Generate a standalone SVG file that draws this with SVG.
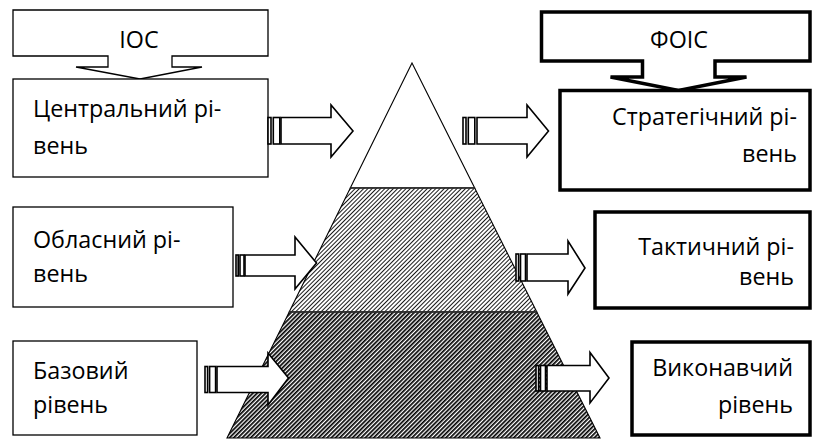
<svg xmlns="http://www.w3.org/2000/svg" width="813" height="439" viewBox="0 0 813 439">
<style>
.thin{fill:#fff;stroke:#000;stroke-width:1.3}
.thick{fill:#fff;stroke:#000;stroke-width:3.5}
.arr{fill:#fff;stroke:#000;stroke-width:1.6;stroke-linejoin:miter}
.t{font-family:"Open Sans","Noto Sans","Liberation Sans",sans-serif;font-size:23.3px;fill:#000}
.pyr{stroke:#000;stroke-width:1.1}
.div{stroke:#333;stroke-width:1.6}
</style>
<defs>
<pattern id="hLight" width="3" height="3" patternUnits="userSpaceOnUse" patternTransform="rotate(45)"><rect width="3" height="3" fill="#fff"/><rect width="0.9" height="3" fill="#000"/></pattern>
<pattern id="hDark" width="3" height="3" patternUnits="userSpaceOnUse" patternTransform="rotate(45)"><rect width="3" height="3" fill="#fff"/><rect width="1.7" height="3" fill="#000"/></pattern>
</defs>
<rect width="813" height="439" fill="#fff"/>
<g id="pyramid">
<polygon points="412,63 474.7,188 350.3,188" fill="#fff" class="pyr"/>
<polygon points="350.3,188 474.7,188 536.8,312 289.2,312" fill="url(#hLight)" class="pyr"/>
<polygon points="289.2,312 536.8,312 600,438 227,438" fill="url(#hDark)" class="pyr"/>
<line x1="350.3" y1="188" x2="474.7" y2="188" class="div"/>
<line x1="289.2" y1="312" x2="536.8" y2="312" class="div"/>
</g>
<g id="ioc">
<path d="M13,10 H268 V56 H172 V67 H202 L140,79 L76,67 H108 V56 H13 Z" class="thin"/>
<text x="139" y="48" text-anchor="middle" class="t">IOC</text>
</g>
<g id="central">
<rect x="13" y="79" width="255" height="98" class="thin"/>
<text x="33" y="117" class="t">Центральний рі-</text>
<text x="33" y="154" class="t">вень</text>
</g>
<g id="oblasnyi">
<rect x="13" y="207" width="220" height="100" class="thin"/>
<text x="33" y="248" class="t">Обласний рі-</text>
<text x="33" y="282" class="t">вень</text>
</g>
<g id="bazovyi">
<rect x="13" y="341" width="184" height="94" class="thin"/>
<text x="33" y="379" class="t">Базовий</text>
<text x="33" y="413" class="t">рівень</text>
</g>
<g id="fois">
<path d="M541.5,12 H810 V61 H715 V77 H746.5 L678.5,90.5 L610.5,77 H642.5 V61 H541.5 Z" class="thick"/>
<text x="679" y="48" text-anchor="middle" class="t">ФОІС</text>
</g>
<g id="stratehichnyi">
<rect x="560" y="90.5" width="250" height="99.5" class="thick"/>
<text x="797" y="125" text-anchor="end" class="t">Стратегічний рі-</text>
<text x="797" y="162" text-anchor="end" class="t">вень</text>
</g>
<g id="taktychnyi">
<rect x="595" y="212" width="215" height="96" class="thick"/>
<text x="794" y="255" text-anchor="end" class="t">Тактичний рі-</text>
<text x="794" y="285" text-anchor="end" class="t">вень</text>
</g>
<g id="vykonavchyi">
<rect x="632" y="342" width="178" height="93" class="thick"/>
<text x="793" y="376" text-anchor="end" class="t">Виконавчий</text>
<text x="793" y="413" text-anchor="end" class="t">рівень</text>
</g>
<g id="connectors">
<rect x="268" y="117.5" width="3" height="26.5" class="arr"/><rect x="273.3" y="117.5" width="6.5" height="26.5" class="arr"/>
<path d="M281,117.5 H331 V105 L353,131 L331,157 V144 H281 Z" class="arr"/>
<rect x="463" y="117.5" width="3" height="26.5" class="arr"/><rect x="468.3" y="117.5" width="6.5" height="26.5" class="arr"/>
<path d="M477,117.5 H527 V105 L548.5,131 L527,157 V144 H477 Z" class="arr"/>
<rect x="236" y="255" width="2.2" height="21" class="arr"/><rect x="240" y="255" width="4" height="21" class="arr"/>
<path d="M245,255 H295 V237 L316.5,263 L295,289 V276 H245 Z" class="arr"/>
<rect x="205" y="366.5" width="2.6" height="26" class="arr"/><rect x="209.6" y="366.5" width="6" height="26" class="arr"/>
<path d="M217,366.5 H268 V353 L288.5,378 L268,405 V392.5 H217 Z" class="arr"/>
<rect x="516" y="254" width="2.6" height="27" class="arr"/><rect x="520.5" y="254" width="5" height="27" class="arr"/>
<path d="M527,254 H568 V241 L585,268 L568,294 V281 H527 Z" class="arr"/>
<rect x="536" y="365.5" width="2.6" height="25.5" class="arr"/><rect x="540.5" y="365.5" width="5" height="25.5" class="arr"/>
<path d="M547,365.5 H590 V352.5 L609,378 L590,403 V391 H547 Z" class="arr"/>
</g>
</svg>
